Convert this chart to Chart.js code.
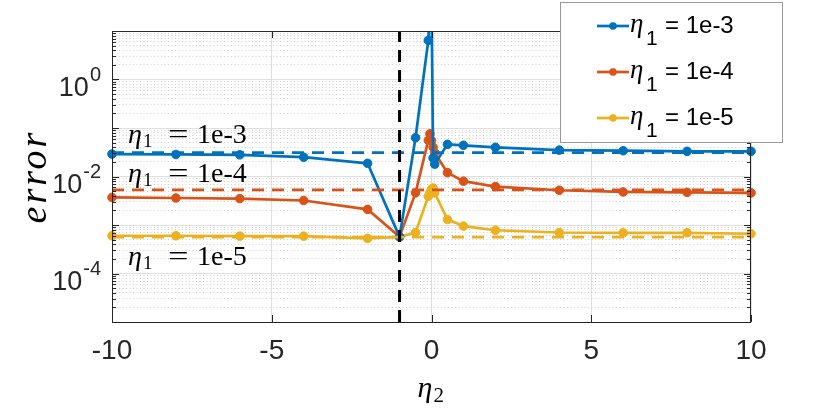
<!DOCTYPE html>
<html lang="en">
<head>
<meta charset="UTF-8"/>
<title>error vs eta2</title>
<script src="https://cdn.jsdelivr.net/npm/chart.js@4/dist/chart.umd.min.js"></script>
<style>
 html,body{margin:0;padding:0;background:#fff}
 #wrap{width:830px;height:410px;position:relative}
</style>
</head>
<body>
<div id="wrap"><canvas id="c"></canvas></div>

<script>
// eta2 sample points and the error for each eta1
const eta2   = [-10,-8,-6,-4,-2,-1,-0.5,-0.1,-0.05,0,0.05,0.1,0.5,1,2,4,6,8,10];
const err1e3 = [0.029,0.0285,0.028,0.025,0.0187,0.00057,0.063,6.4,30,60,0.024,0.018,0.046,0.044,0.040,0.035,0.034,0.033,0.033];
const err1e4 = [0.0037,0.0036,0.0035,0.0032,0.0021,0.00057,0.0046,0.056,0.076,0.055,0.040,0.031,0.012,0.008,0.0062,0.0052,0.0048,0.0047,0.0046];
const err1e5 = [0.00060,0.00060,0.00059,0.00059,0.00053,0.00057,0.00070,0.0039,0.0046,0.0055,0.0058,0.0046,0.0013,0.00095,0.00078,0.00070,0.00069,0.00069,0.00066];

// reference levels (dashed) and the switch at eta2 = -1
const refLevels = [0.031, 0.0053, 0.00056];
const switchX   = -1;
const xLimits   = [-10, 10];
const yLimits   = [1e-5, 10];

const seriesLabels = ['1e-3','1e-4','1e-5'];
const seriesColors = ['#0072BD','#D95319','#EDB120'];
const yTickValues  = [1, 1e-2, 1e-4];
const yTickExps    = ['0','-2','-4'];

const series = [err1e3, err1e4, err1e5];
const AXIS = '#262626';

// every 1..9 x 10^k for the log grid
const yGrid = [];
for (let k = Math.log10(yLimits[0]); k < Math.log10(yLimits[1]); k++)
  for (let m = 1; m <= 9; m++) yGrid.push(m * Math.pow(10, k));
yGrid.push(yLimits[1]);
const isMajor = v => Math.abs(Math.log10(v) - Math.round(Math.log10(v))) < 1e-9;

const edgeClip = {left: 6, right: 6, top: 0, bottom: 0};
const datasets = [];
series.forEach((s, i) => datasets.push({
  data: eta2.map((x, j) => ({x, y: s[j]})),
  borderColor: seriesColors[i], backgroundColor: seriesColors[i],
  borderWidth: 2.7, pointRadius: 4.3, pointBorderWidth: 1, pointHoverRadius: 4.3,
  borderJoinStyle: 'round', tension: 0, clip: edgeClip, order: 3
}));
refLevels.forEach((v, i) => datasets.push({
  data: xLimits.map(x => ({x, y: v})),
  borderColor: seriesColors[i], borderWidth: 2.7, borderDash: [12, 8],
  pointRadius: 0, clip: 0, order: 2
}));
datasets.push({
  data: yLimits.map(y => ({x: switchX, y})),
  borderColor: '#000', borderWidth: 3, borderDash: [12, 8],
  pointRadius: 0, clip: 0, order: 1
});

// box, inward ticks, superscript y labels, text labels, legend
const decor = {
  id: 'decor',
  afterDraw(chart) {
    const {ctx, chartArea: a, scales: {x, y}} = chart;
    ctx.save();
    ctx.strokeStyle = AXIS; ctx.lineWidth = 1;
    ctx.strokeRect(a.left + 0.5, a.top + 0.5, a.right - a.left - 1, a.bottom - a.top);

    ctx.beginPath();
    yGrid.forEach(v => {
      const py = Math.round(y.getPixelForValue(v)) + 0.5, L = isMajor(v) ? 7 : 4;
      ctx.moveTo(a.left, py); ctx.lineTo(a.left + L, py);
      ctx.moveTo(a.right, py); ctx.lineTo(a.right - L, py);
    });
    x.ticks.forEach(t => {
      const px = Math.round(x.getPixelForValue(t.value)) + 0.5;
      ctx.moveTo(px, a.bottom); ctx.lineTo(px, a.bottom - 7);
      ctx.moveTo(px, a.top); ctx.lineTo(px, a.top + 7);
    });
    ctx.stroke();

    // y tick labels 10^k
    ctx.fillStyle = AXIS; ctx.textBaseline = 'alphabetic'; ctx.textAlign = 'left';
    yTickValues.forEach((v, i) => {
      const py = y.getPixelForValue(v);
      ctx.font = '20px "Liberation Sans"';
      const ew = ctx.measureText(yTickExps[i]).width;
      ctx.font = '27px "Liberation Sans"';
      const bw = ctx.measureText('10').width;
      const right = a.left - 11;
      ctx.fillText('10', right - ew - bw - 1, py + 16);
      ctx.font = '20px "Liberation Sans"';
      ctx.fillText(yTickExps[i], right - ew, py + 1);
    });

    // eta1 = ... labels on the left
    const labelY = [0.05, 0.0078, 1.5e-4];
    const lx = x.getPixelForValue(-9.5);
    ctx.fillStyle = '#000';
    seriesLabels.forEach((s, i) => {
      const by = y.getPixelForValue(labelY[i]);
      ctx.font = 'italic 28px "Liberation Serif"';
      ctx.fillText('η', lx, by);
      ctx.font = '19px "Liberation Serif"';
      ctx.fillText('1', lx + 15, by + 4);
      ctx.font = '28px "Liberation Serif"';
      ctx.save(); ctx.translate(lx + 40, by); ctx.scale(1.3, 1);
      ctx.fillText('=', 0, 0); ctx.restore();
      ctx.fillText(s, lx + 69, by);
    });

    // x title
    const cx = (a.left + a.right) / 2;
    ctx.font = 'italic 30px "Liberation Serif"';
    ctx.fillText('η', cx - 14, a.bottom + 75);
    ctx.font = '21px "Liberation Serif"';
    ctx.fillText('2', cx + 2, a.bottom + 80);

    // y title
    ctx.save();
    ctx.translate(46, (a.top + a.bottom) / 2);
    ctx.rotate(-Math.PI / 2);
    ctx.textAlign = 'center';
    ctx.font = 'italic 38px "Liberation Serif"';
    if ('letterSpacing' in ctx) ctx.letterSpacing = '3px';
    ctx.fillText('error', 0, 0);
    ctx.restore();

    // legend
    const bx = 560.5, by0 = 2.5, bw = 222, bh = 140;
    ctx.fillStyle = '#fff'; ctx.fillRect(bx, by0, bw, bh);
    ctx.strokeStyle = '#999'; ctx.lineWidth = 1; ctx.strokeRect(bx, by0, bw, bh);
    seriesLabels.forEach((s, i) => {
      const ry = 26 + i * 46;
      ctx.strokeStyle = seriesColors[i]; ctx.fillStyle = seriesColors[i];
      ctx.lineWidth = 2.7;
      ctx.beginPath(); ctx.moveTo(597, ry); ctx.lineTo(629, ry); ctx.stroke();
      ctx.beginPath(); ctx.arc(613, ry, 3.8, 0, Math.PI * 2); ctx.fill();
      ctx.fillStyle = '#000';
      ctx.font = 'italic 27px "Liberation Serif"';
      ctx.fillText('η', 630, ry + 6);
      ctx.font = '21px "Liberation Sans"';
      ctx.fillText('1', 646, ry + 19);
      ctx.font = '24px "Liberation Sans"';
      ctx.fillText('= ' + s, 665, ry + 7);
    });
    ctx.restore();
  }
};

new Chart(document.getElementById('c'), {
  type: 'line',
  data: {datasets},
  options: {
    responsive: true, maintainAspectRatio: false, animation: false,
    layout: {padding: {top: 31, right: 79, left: 0, bottom: 0}},
    plugins: {legend: {display: false}, tooltip: {enabled: false}},
    scales: {
      x: {
        type: 'linear', min: xLimits[0], max: xLimits[1],
        ticks: {stepSize: 5, font: {family: 'Liberation Sans', size: 28}, color: AXIS, padding: 12, maxRotation: 0},
        grid: {color: '#dfdfdf', drawTicks: false},
        border: {display: false},
        afterFit(s) { s.height = 88; }
      },
      y: {
        type: 'logarithmic', min: yLimits[0], max: yLimits[1],
        afterBuildTicks(s) { s.ticks = yGrid.map(v => ({value: v})); },
        ticks: {display: false},
        grid: {drawTicks: false, color: c => (c.tick && isMajor(c.tick.value)) ? '#dfdfdf' : '#cfcfcf'},
        border: {display: false, dash: c => (c.tick && !isMajor(c.tick.value)) ? [1, 2.5] : []},
        afterFit(s) { s.width = 112; }
      }
    }
  },
  plugins: [decor]
});
</script>
</body>
</html>
